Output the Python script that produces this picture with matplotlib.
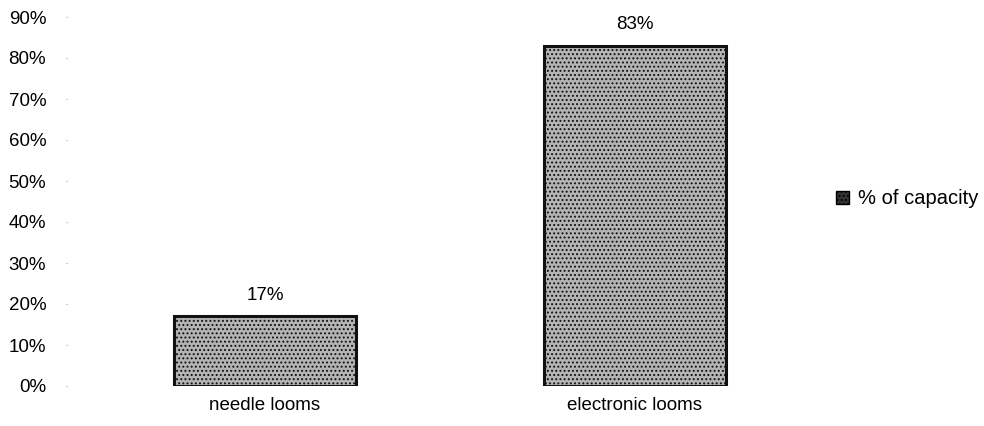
import matplotlib.pyplot as plt
from matplotlib.patches import Patch
from matplotlib.ticker import PercentFormatter

categories = ["needle looms", "electronic looms"]
capacity = [0.17, 0.83]
value_labels = ["17%", "83%"]
yticks = [0.0, 0.1, 0.2, 0.3, 0.4, 0.5, 0.6, 0.7, 0.8, 0.9]

plt.rcParams["font.family"] = ["Liberation Sans", "DejaVu Sans"]
plt.rcParams["hatch.color"] = "#2a2a2a"
plt.rcParams["hatch.linewidth"] = 0.9

fig = plt.figure(figsize=(9.84, 4.26), dpi=100)
ax = fig.add_axes([67 / 984, 40 / 426, (820 - 67) / 984, (386 - 17) / 426])

x = range(len(categories))
bars = ax.bar(x, capacity, width=0.49, color="#b4b4b4", edgecolor="#111111",
              linewidth=2.2, hatch="....")

for b, lab in zip(bars, value_labels):
    ax.text(b.get_x() + b.get_width() / 2, b.get_height() + 0.03, lab,
            ha="center", va="bottom", fontsize=13.5)

ax.set_xlim(-0.535, 1.5)
ax.set_ylim(0, 0.9)
ax.set_yticks(yticks)
ax.yaxis.set_major_formatter(PercentFormatter(1.0, decimals=0))
ax.set_xticks(list(x))
ax.set_xticklabels(categories)
ax.tick_params(axis="y", length=1, pad=14, labelsize=13.5, color="#999999")
ax.tick_params(axis="x", length=0, pad=8, labelsize=13.5)
for s in ax.spines.values():
    s.set_visible(False)

handle = Patch(facecolor="#333333", edgecolor="black", hatch="....")
fig.legend([handle], ["% of capacity"], loc="center left",
           bbox_to_anchor=(836 / 984, 1 - 199 / 426), frameon=False,
           fontsize=14.5, handlelength=0.65, handleheight=0.65, handletextpad=0.45,
           borderaxespad=0, borderpad=0)

fig.savefig("out.png", dpi=100)
